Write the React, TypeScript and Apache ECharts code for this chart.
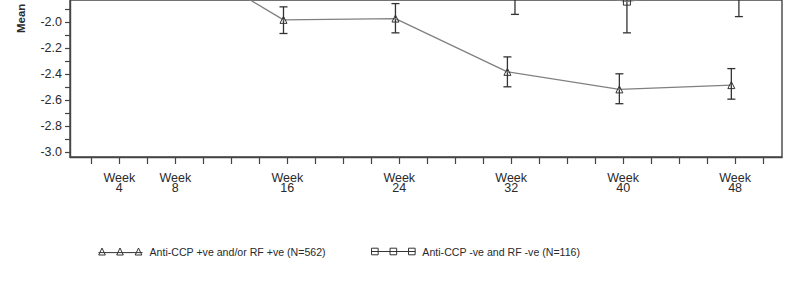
import React, { useEffect, useRef } from "react";
import * as echarts from "echarts";

// Visit weeks and mean change (with error-bar limits) for each serostatus group
const weeks = [4, 8, 16, 24, 32, 40, 48];

const posName = "Anti-CCP +ve and/or RF +ve (N=562)";
const posMean = [-1.2, -1.47, -1.985, -1.975, -2.385, -2.52, -2.487];
const posLow = [-1.3, -1.57, -2.09, -2.085, -2.5, -2.63, -2.595];
const posHigh = [-1.1, -1.37, -1.885, -1.86, -2.27, -2.4, -2.36];

const negName = "Anti-CCP -ve and RF -ve (N=116)";
const negMean = [-1.1, -1.35, -1.5, -1.55, -1.69, -1.845, -1.71];
const negLow = [-1.36, -1.61, -1.75, -1.8, -1.943, -2.085, -1.96];
const negHigh = [-0.84, -1.09, -1.25, -1.3, -1.437, -1.605, -1.46];

const weekTicks = [2, 4, 6, 8, 10, 12, 14, 16, 18, 20, 22, 24, 26, 28, 30, 32, 34, 36, 38, 40, 42, 44, 46, 48, 50];
const weekLabels = [4, 8, 16, 24, 32, 40, 48];
const yTickTenths = [-30, -29, -28, -27, -26, -25, -24, -23, -22, -21, -20, -19];
const yLabelTenths = [-30, -28, -26, -24, -22, -20];

const yAxisTitle = "Mean Change from Baseline in DAS28";

const FONT = "'Liberation Sans', Arial, Helvetica, sans-serif";
const INK = "#2a2a2a";
const DODGE = 0.27;

const triIcon =
  "path://M0 5.2L44 5.2M0.2 7.6L3.5 0.6L6.8 7.6ZM18.2 7.6L21.5 0.6L24.8 7.6ZM36.7 7.6L40 0.6L43.3 7.6Z";
const sqIcon =
  "path://M0 4L44 4M0.2 0.7h6.6v6.6h-6.6ZM18.7 0.7h6.6v6.6h-6.6ZM37.2 0.7h6.6v6.6h-6.6Z";

function errorBars(name: string, offset: number, low: number[], high: number[]) {
  return {
    type: "custom",
    name,
    clip: true,
    data: weeks.map((w, i) => [w + offset, low[i], high[i]]),
    encode: { x: 0, y: [1, 2] },
    z: 3,
    renderItem: (_params: any, api: any) => {
      const x = api.value(0);
      const a = api.coord([x, api.value(1)]);
      const b = api.coord([x, api.value(2)]);
      const hw = 4;
      const style = { stroke: "#333", lineWidth: 1.3 };
      return {
        type: "group",
        children: [
          { type: "line", shape: { x1: a[0], y1: a[1], x2: b[0], y2: b[1] }, style },
          { type: "line", shape: { x1: a[0] - hw, y1: a[1], x2: a[0] + hw, y2: a[1] }, style },
          { type: "line", shape: { x1: b[0] - hw, y1: b[1], x2: b[0] + hw, y2: b[1] }, style },
        ],
      };
    },
  };
}

function meanLine(name: string, offset: number, mean: number[], symbol: string) {
  return {
    type: "line",
    name,
    clip: true,
    data: weeks.map((w, i) => [w + offset, mean[i]]),
    symbol,
    symbolSize: 7,
    showAllSymbol: true,
    z: 4,
    itemStyle: { color: "transparent", borderColor: "#333", borderWidth: 1 },
    lineStyle: { color: "#808080", width: 1.3 },
  };
}

export default function App() {
  const ref = useRef<HTMLDivElement>(null);

  useEffect(() => {
    if (!ref.current) return;
    const chart = echarts.init(ref.current, undefined, { renderer: "svg" });
    chart.setOption({
      animation: false,
      backgroundColor: "#ffffff",
      textStyle: { fontFamily: FONT },
      grid: {
        left: 70,
        right: 21,
        bottom: 125,
        top: 0,
        show: true,
        borderColor: "#444",
        borderWidth: 1.4,
        backgroundColor: "transparent",
      },
      xAxis: {
        type: "value",
        min: 0.475,
        max: 51.35,
        axisLine: { show: true, lineStyle: { color: "#444", width: 1.4 } },
        axisTick: {
          show: true,
          customValues: weekTicks,
          length: 7,
          lineStyle: { color: "#444", width: 1.2 },
        },
        axisLabel: {
          customValues: weekLabels,
          formatter: (v: number) => `Week\n${v}`,
          fontSize: 12.5,
          lineHeight: 10,
          margin: 16,
          color: INK,
          fontFamily: FONT,
        },
        splitLine: { show: false },
      },
      yAxis: {
        type: "value",
        min: -3.04,
        max: -1.8323,
        axisLine: { show: true, lineStyle: { color: "#444", width: 1.4 } },
        axisTick: {
          show: true,
          customValues: yTickTenths.map((t) => t / 10),
          length: 5,
          lineStyle: { color: "#444", width: 1.2 },
        },
        axisLabel: {
          customValues: yLabelTenths.map((t) => t / 10),
          formatter: (v: number) => v.toFixed(1),
          fontSize: 12.5,
          margin: 8,
          color: INK,
          fontFamily: FONT,
        },
        splitLine: { show: false },
      },
      legend: {
        left: 98,
        top: 246,
        padding: 0,
        itemGap: 45,
        itemWidth: 44,
        itemHeight: 8,
        selectedMode: false,
        itemStyle: { color: "transparent", borderColor: "#333", borderWidth: 1 },
        textStyle: { fontSize: 10.6, color: INK, fontFamily: FONT, padding: [0, 0, 0, 2] },
        data: [
          { name: posName, icon: triIcon },
          { name: negName, icon: sqIcon },
        ],
      },
      graphic: [
        {
          type: "group",
          x: 21,
          y: 33,
          rotation: Math.PI / 2,
          children: [
            {
              type: "text",
              x: 0,
              y: 0,
              style: {
                text: yAxisTitle,
                fontSize: 11.5,
                fontWeight: "bold",
                fontFamily: FONT,
                fill: INK,
                align: "left",
                verticalAlign: "middle",
              },
            },
          ],
        },
      ],
      series: [
        errorBars("posBars", -DODGE, posLow, posHigh),
        errorBars("negBars", DODGE, negLow, negHigh),
        meanLine(posName, -DODGE, posMean, "triangle"),
        meanLine(negName, DODGE, negMean, "rect"),
      ],
    });
    return () => chart.dispose();
  }, []);

  return (
    <div
      ref={ref}
      style={{ position: "fixed", left: 0, top: 0, width: 803, height: 282, background: "#fff" }}
    />
  );
}
